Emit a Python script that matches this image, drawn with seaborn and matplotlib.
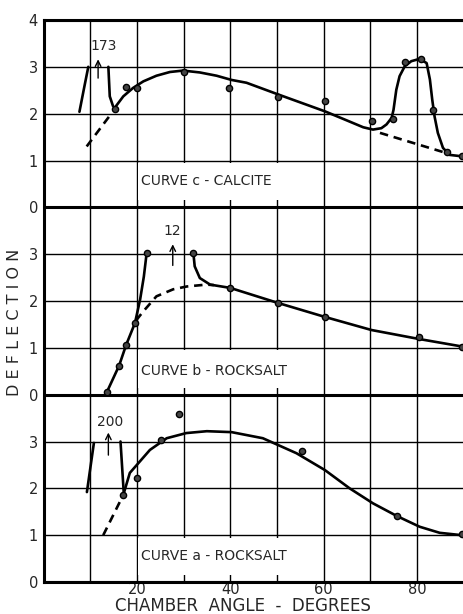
import numpy as np
import pandas as pd
import matplotlib
matplotlib.use("Agg")
import matplotlib.pyplot as plt
import seaborn as sns
from matplotlib.patches import Rectangle

# ---------------- data (values in section units, each section 0-4) ----------------
section_base = {"a": 0, "b": 4, "c": 8}

# Curve c - calcite (top)
c_pts_x = [15.3, 17.7, 20.0, 30.0, 39.8, 50.2, 60.3, 70.3, 74.8, 77.4, 80.8, 83.4, 86.4, 89.6]
c_pts_y = [2.10, 2.58, 2.55, 2.88, 2.55, 2.36, 2.28, 1.85, 1.89, 3.11, 3.17, 2.08, 1.19, 1.10]
c_curve_x = [15.3, 17.1, 19.2, 21.4, 24.2, 27.1, 29.9, 33.5, 37.1, 40.3, 43.5, 50.3, 55.3, 60.3,
             64.9, 68.5, 70.6, 72.4, 73.5, 74.6, 75.0, 75.6, 76.3, 77.4, 78.8, 80.6, 82.1, 82.8,
             83.3, 83.8, 84.5, 85.6, 87.0, 89.6]
c_curve_y = [2.13, 2.37, 2.55, 2.69, 2.81, 2.89, 2.92, 2.88, 2.81, 2.72, 2.66, 2.41, 2.23, 2.05,
             1.86, 1.71, 1.66, 1.69, 1.77, 1.91, 2.08, 2.51, 2.80, 3.01, 3.12, 3.17, 3.08, 2.73,
             2.30, 1.94, 1.59, 1.27, 1.12, 1.09]
c_spike_left_x = [7.7, 8.8, 9.6]
c_spike_left_y = [2.04, 2.60, 3.00]
c_spike_right_x = [13.9, 14.2, 14.9]
c_spike_right_y = [3.00, 2.37, 2.16]
c_dash_left_x = [9.25, 14.6]
c_dash_left_y = [1.30, 2.01]
c_dash_right_x = [72.1, 86.3]
c_dash_right_y = [1.59, 1.16]
c_arrow = (11.7, 2.70, 3.22)
c_peak_label = ("173", 12.8, 3.44)

# Curve b - rocksalt (middle)
b_pts_x = [13.6, 16.2, 17.7, 19.6, 22.1, 32.0, 39.9, 50.2, 60.3, 80.4, 89.6]
b_pts_y = [0.06, 0.62, 1.06, 1.53, 3.03, 3.03, 2.28, 1.96, 1.66, 1.24, 1.02]
b_left_x = [13.6, 16.2, 17.7, 19.6, 20.7, 21.5, 22.1]
b_left_y = [0.06, 0.62, 1.06, 1.53, 2.03, 2.52, 3.02]
b_right_x = [32.1, 32.4, 33.5, 35.7, 40.0, 50.2, 60.3, 70.3, 80.4, 89.6]
b_right_y = [3.04, 2.74, 2.49, 2.35, 2.28, 1.96, 1.66, 1.38, 1.19, 1.03]
b_dash_x = [19.8, 21.4, 24.2, 27.8, 30.7, 34.9, 36.5]
b_dash_y = [1.58, 1.78, 2.10, 2.25, 2.31, 2.35, 2.34]
b_arrow = (27.7, 2.70, 3.27)
b_peak_label = ("12", 27.5, 3.49)

# Curve a - rocksalt (bottom)
a_pts_x = [17.1, 20.0, 25.1, 29.1, 55.3, 75.7, 89.6]
a_pts_y = [1.86, 2.22, 3.03, 3.59, 2.80, 1.41, 1.03]
a_curve_x = [17.1, 18.5, 20.0, 22.8, 26.4, 30.6, 35.0, 40.3, 47.0, 54.2, 60.3, 65.6, 70.6, 75.7,
             80.6, 84.9, 89.6]
a_curve_y = [1.86, 2.33, 2.50, 2.82, 3.07, 3.18, 3.22, 3.20, 3.07, 2.75, 2.39, 2.00, 1.68, 1.41,
             1.18, 1.05, 1.00]
a_spike_left_x = [9.3, 10.8]
a_spike_left_y = [1.92, 2.97]
a_spike_right_x = [16.5, 17.2]
a_spike_right_y = [3.00, 1.90]
a_dash_x = [12.8, 17.1]
a_dash_y = [1.00, 1.86]
a_arrow = (13.9, 2.65, 3.25)
a_peak_label = ("200", 14.2, 3.42)

curve_titles = {"c": "CURVE c - CALCITE", "b": "CURVE b - ROCKSALT", "a": "CURVE a - ROCKSALT"}
title_pos = {"c": (20.9, 0.57), "b": (20.9, 0.50), "a": (20.9, 0.55)}

y_tick_labels = ["0", "1", "2", "3", "0", "1", "2", "3", "0", "1", "2", "3", "4"]
x_tick_values = [20, 40, 60, 80]
x_label = "CHAMBER  ANGLE  -  DEGREES"
y_label = "D E F L E C T I O N"

# ---------------- drawing ----------------
sns.set_style("white")
plt.rcParams['font.family'] = ['DejaVu Sans']

fig = plt.figure(figsize=(4.63, 6.14), dpi=100)
ax = fig.add_axes([43.5 / 463, 32 / 614, 420 / 463, 562 / 614])
ax.set_xlim(0, 90)
ax.set_ylim(0, 12)

# grid
for yv in range(13):
    thick = yv % 4 == 0
    ax.axhline(yv, color="black", lw=2.2 if thick else 1.0, zorder=1)
for xv in range(10, 90, 10):
    ax.axvline(xv, color="black", lw=1.0, zorder=1)

# label boxes (mask gridlines)
for key, base in section_base.items():
    ax.add_patch(Rectangle((20.3, base + 0.15), 39.4, 0.8, facecolor="white",
                           edgecolor="none", zorder=1.5))
    tx, ty = title_pos[key]
    ax.text(tx, base + ty, curve_titles[key], fontsize=10, va="center", ha="left", zorder=2)

LW = 1.9

def line(xs, ys, base, dashed=False):
    df = pd.DataFrame({"x": xs, "y": np.asarray(ys) + base})
    sns.lineplot(data=df, x="x", y="y", ax=ax, sort=False, estimator=None, color="black",
                 lw=LW, zorder=3, linestyle=(0, (3.2, 2.2)) if dashed else "-")

def points(xs, ys, base):
    df = pd.DataFrame({"x": xs, "y": np.asarray(ys) + base})
    sns.scatterplot(data=df, x="x", y="y", ax=ax, s=20, color="#444444",
                    edgecolor="black", linewidth=1.0, zorder=4)

def arrow(spec, label, base):
    x, y0, y1 = spec
    ax.annotate("", xy=(x, y1 + base), xytext=(x, y0 + base),
                arrowprops=dict(arrowstyle="->", color="black", lw=1.0), zorder=4)
    t, tx, ty = label
    ax.text(tx, ty + base, t, fontsize=10, ha="center", va="center", zorder=4)

# curve c
bc = section_base["c"]
line(c_curve_x, c_curve_y, bc)
line(c_spike_left_x, c_spike_left_y, bc)
line(c_spike_right_x, c_spike_right_y, bc)
line(c_dash_left_x, c_dash_left_y, bc, dashed=True)
line(c_dash_right_x, c_dash_right_y, bc, dashed=True)
points(c_pts_x, c_pts_y, bc)
arrow(c_arrow, c_peak_label, bc)

# curve b
bb = section_base["b"]
line(b_left_x, b_left_y, bb)
line(b_right_x, b_right_y, bb)
line(b_dash_x, b_dash_y, bb, dashed=True)
points(b_pts_x, b_pts_y, bb)
arrow(b_arrow, b_peak_label, bb)

# curve a
ba = section_base["a"]
line(a_curve_x, a_curve_y, ba)
line(a_spike_left_x, a_spike_left_y, ba)
line(a_spike_right_x, a_spike_right_y, ba)
line(a_dash_x, a_dash_y, ba, dashed=True)
points(a_pts_x, a_pts_y, ba)
arrow(a_arrow, a_peak_label, ba)

# axes styling
for side in ["left", "bottom", "top"]:
    ax.spines[side].set_visible(True)
    ax.spines[side].set_linewidth(2.2)
    ax.spines[side].set_color("black")
ax.spines["right"].set_visible(False)

ax.set_yticks(range(13))
ax.set_yticklabels(y_tick_labels, fontsize=10.5)
ax.set_xticks(x_tick_values)
ax.set_xticklabels([str(v) for v in x_tick_values], fontsize=10.5)
ax.tick_params(axis="both", length=0)
ax.tick_params(axis="y", pad=4)
ax.tick_params(axis="x", pad=0)
ax.set_xlabel("")
ax.set_ylabel("")

fig.text(15 / 463, 1 - 322 / 614, y_label, rotation=90, fontsize=11.5,
         ha="center", va="center")
fig.text(243 / 463, 1 - 611 / 614, x_label, fontsize=12, ha="center", va="baseline")

fig.savefig("out.png", dpi=100, facecolor="white")
